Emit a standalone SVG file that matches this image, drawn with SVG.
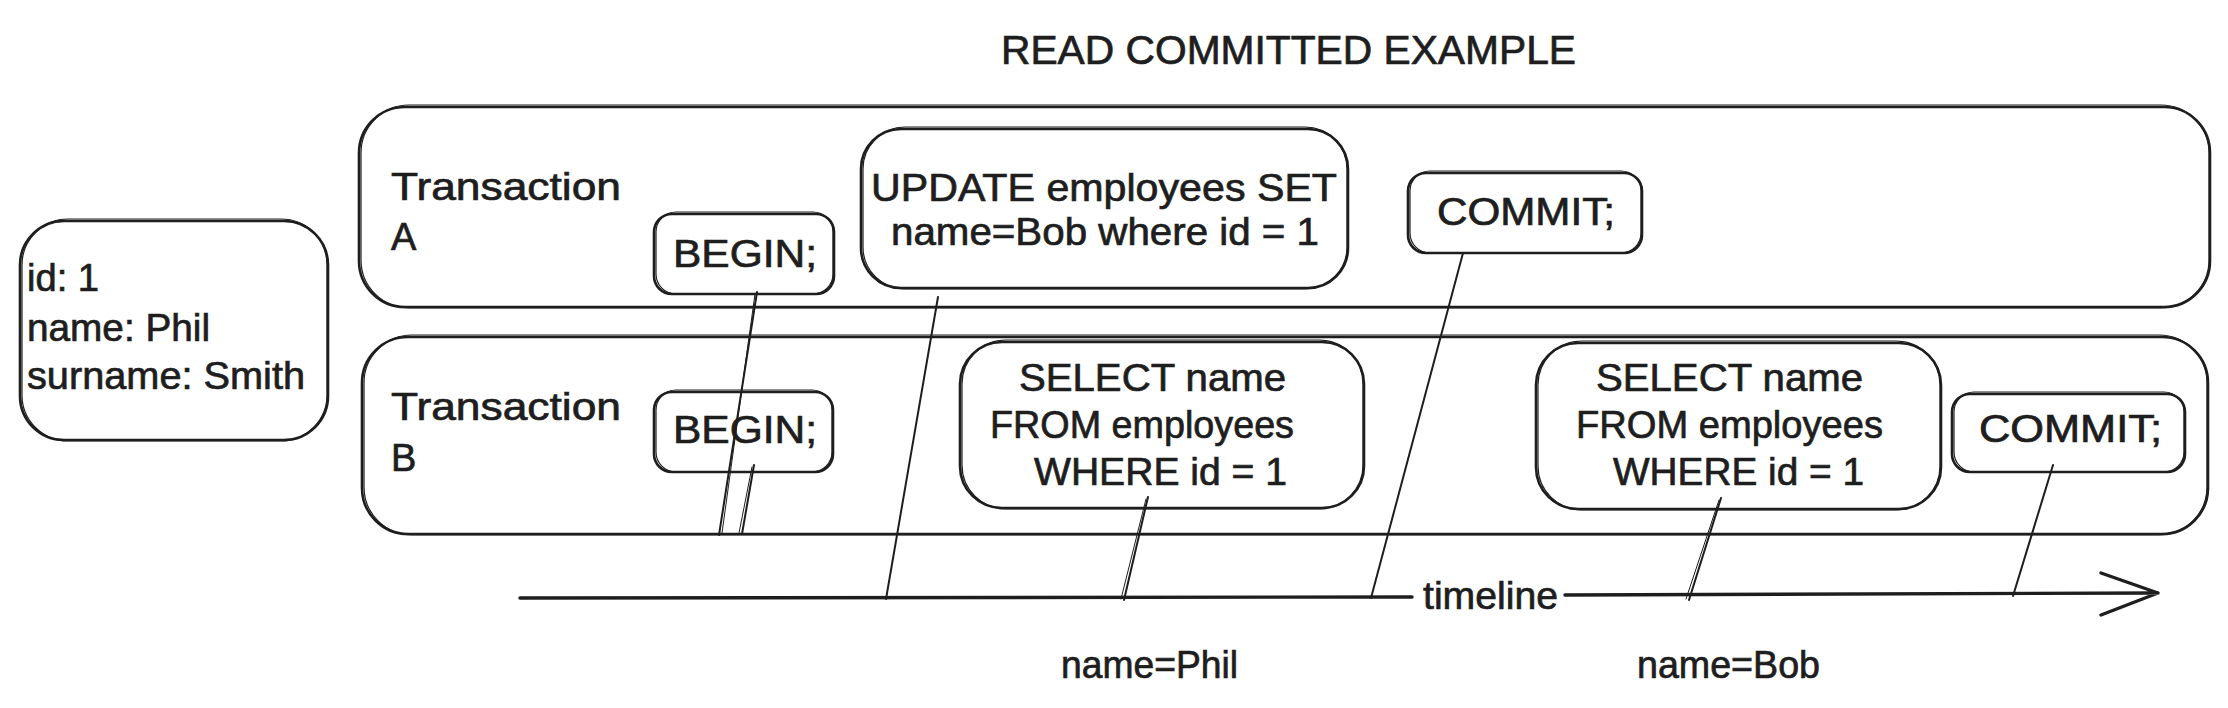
<svg xmlns="http://www.w3.org/2000/svg" width="2228" height="708" viewBox="0 0 2228 708">
  <style>
    .box { fill: none; stroke: #1e1e1e; stroke-width: 2.6; stroke-linejoin: round; }
    .box2 { fill: none; stroke: #1e1e1e; stroke-width: 1.2; stroke-linejoin: round; }
    .ln { fill: none; stroke: #1e1e1e; stroke-width: 2; stroke-linecap: round; }
    .ln2 { fill: none; stroke: #1e1e1e; stroke-width: 1; stroke-linecap: round; }
    .tl { fill: none; stroke: #1e1e1e; stroke-width: 3.4; stroke-linecap: round; stroke-linejoin: round; }
    text { font-family: "Liberation Sans", "DejaVu Sans", sans-serif; fill: #1e1e1e; stroke: #1e1e1e; stroke-width: 0.7; font-size: 38px; }
    .title { font-size: 40px; }
  </style>
  <rect width="2228" height="708" fill="#ffffff"/>

  <g id="title">
    <text class="title" x="1001" y="64" textLength="575" lengthAdjust="spacingAndGlyphs">READ COMMITTED EXAMPLE</text>
  </g>

  <g id="record">
    <rect class="box" x="20" y="221" width="308" height="219" rx="44"/>
    <rect class="box2" x="22" y="219" width="305" height="222" rx="46"/>
    <text x="27" y="291" textLength="72" lengthAdjust="spacingAndGlyphs">id: 1</text>
    <text x="27" y="341" textLength="183" lengthAdjust="spacingAndGlyphs">name: Phil</text>
    <text x="27" y="389" textLength="278" lengthAdjust="spacingAndGlyphs">surname: Smith</text>
  </g>

  <g id="transaction-a">
    <rect class="box" x="359" y="107" width="1851" height="200" rx="46"/>
    <rect class="box2" x="361" y="105" width="1848" height="203" rx="48"/>
    <text x="391" y="200" textLength="230" lengthAdjust="spacingAndGlyphs">Transaction</text>
    <text x="391" y="250">A</text>
  </g>

  <g id="transaction-b">
    <rect class="box" x="362" y="337" width="1846" height="197" rx="46"/>
    <rect class="box2" x="364" y="335" width="1843" height="200" rx="48"/>
    <text x="391" y="420" textLength="230" lengthAdjust="spacingAndGlyphs">Transaction</text>
    <text x="391" y="471">B</text>
  </g>

  <g id="begin-a">
    <rect class="box" x="654" y="214" width="180" height="80" rx="18"/>
    <rect class="box2" x="656" y="212" width="177" height="82" rx="20"/>
    <text x="673" y="267" textLength="144" lengthAdjust="spacingAndGlyphs">BEGIN;</text>
  </g>

  <g id="update-a">
    <rect class="box" x="861" y="129" width="487" height="159" rx="40"/>
    <rect class="box2" x="863" y="127" width="484" height="162" rx="42"/>
    <text x="871" y="201" textLength="466" lengthAdjust="spacingAndGlyphs">UPDATE employees SET</text>
    <text x="891" y="245" textLength="428" lengthAdjust="spacingAndGlyphs">name=Bob where id = 1</text>
  </g>

  <g id="commit-a">
    <rect class="box" x="1408" y="173" width="234" height="80" rx="18"/>
    <rect class="box2" x="1410" y="171" width="231" height="82" rx="20"/>
    <text x="1437" y="225" textLength="178" lengthAdjust="spacingAndGlyphs">COMMIT;</text>
  </g>

  <g id="begin-b">
    <rect class="box" x="654" y="392" width="179" height="80" rx="18"/>
    <rect class="box2" x="656" y="390" width="176" height="82" rx="20"/>
    <text x="673" y="443" textLength="144" lengthAdjust="spacingAndGlyphs">BEGIN;</text>
  </g>

  <g id="select-b1">
    <rect class="box" x="960" y="342" width="404" height="166" rx="42"/>
    <rect class="box2" x="962" y="340" width="401" height="169" rx="44"/>
    <text x="1019" y="391" textLength="267" lengthAdjust="spacingAndGlyphs">SELECT name</text>
    <text x="990" y="438" textLength="304" lengthAdjust="spacingAndGlyphs">FROM employees</text>
    <text x="1034" y="485" textLength="253" lengthAdjust="spacingAndGlyphs">WHERE id = 1</text>
  </g>

  <g id="select-b2">
    <rect class="box" x="1536" y="343" width="405" height="166" rx="42"/>
    <rect class="box2" x="1538" y="341" width="402" height="169" rx="44"/>
    <text x="1596" y="391" textLength="267" lengthAdjust="spacingAndGlyphs">SELECT name</text>
    <text x="1576" y="438" textLength="307" lengthAdjust="spacingAndGlyphs">FROM employees</text>
    <text x="1613" y="485" textLength="251" lengthAdjust="spacingAndGlyphs">WHERE id = 1</text>
  </g>

  <g id="commit-b">
    <rect class="box" x="1952" y="394" width="233" height="78" rx="18"/>
    <rect class="box2" x="1954" y="392" width="230" height="80" rx="20"/>
    <text x="1979" y="442" textLength="183" lengthAdjust="spacingAndGlyphs">COMMIT;</text>
  </g>

  <g id="timeline">
    <path class="tl" d="M520 598 L1412 597 M1565 595 L2158 593 M2101 573 L2158 593 L2101 615"/>
    <text x="1423" y="609" textLength="135" lengthAdjust="spacingAndGlyphs">timeline</text>
  </g>

  <g id="results">
    <text x="1061" y="678" textLength="177" lengthAdjust="spacingAndGlyphs">name=Phil</text>
    <text x="1637" y="678" textLength="183" lengthAdjust="spacingAndGlyphs">name=Bob</text>
  </g>

  <g id="connectors">
    <path class="ln" d="M757 292 L719 535"/>
    <path class="ln2" d="M755 294 L722 533"/>
    <path class="ln" d="M754 465 L742 534"/>
    <path class="ln2" d="M752 467 L739 533"/>
    <path class="ln" d="M938 297 L886 599"/>
    <path class="ln" d="M1463 253 L1371 598"/>
    <path class="ln" d="M1148 497 L1124 600"/>
    <path class="ln2" d="M1146 499 L1121 599"/>
    <path class="ln" d="M1721 498 L1689 600"/>
    <path class="ln2" d="M1719 500 L1686 599"/>
    <path class="ln" d="M2053 465 L2013 596"/>
  </g>
</svg>
